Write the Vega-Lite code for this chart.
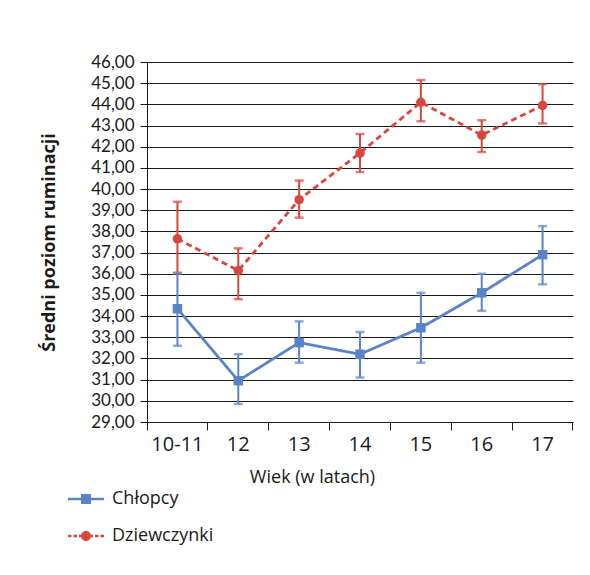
{
  "$schema": "https://vega.github.io/schema/vega-lite/v6.json",
  "width": 426,
  "height": 360,
  "autosize": "none",
  "padding": {"left": 147, "top": 62, "right": 17, "bottom": 153},
  "background": "white",
  "config": {
    "locale": {"number": {"decimal": ",", "thousands": " ", "grouping": [3], "currency": ["", " zł"]}},
    "view": {"stroke": null},
    "font": "Open Sans",
    "axisY": {
      "format": ".2f",
      "labelOverlap": false,
      "labelFont": "Lato",
      "labelFontSize": 17,
      "labelColor": "#1a1a1a",
      "labelPadding": 6,
      "tickSize": 7,
      "tickColor": "#1a1a1a",
      "domainColor": "#1a1a1a",
      "grid": true,
      "gridColor": "#1a1a1a",
      "gridWidth": 1.2,
      "gridOpacity": 1,
      "titleFontSize": 18,
      "titleFontWeight": "bold",
      "titleColor": "#1a1a1a",
      "titlePadding": 32
    },
    "axisX": {
      "labelAngle": 0,
      "labelFontSize": 20,
      "labelColor": "#1a1a1a",
      "labelPadding": 4,
      "tickSize": 8,
      "tickColor": "#1a1a1a",
      "domainColor": "#1a1a1a",
      "bandPosition": 1,
      "tickExtra": true,
      "grid": false,
      "titleFontSize": 18,
      "titleFontWeight": "normal",
      "titleColor": "#1a1a1a",
      "titlePadding": 14,
      "titleX": 165
    }
  },
  "data": {
    "values": [
      {"wiek": "10-11", "plec": "Chłopcy", "m": 34.35, "lo": 32.6, "hi": 36.0},
      {"wiek": "12", "plec": "Chłopcy", "m": 30.95, "lo": 29.85, "hi": 32.2},
      {"wiek": "13", "plec": "Chłopcy", "m": 32.75, "lo": 31.8, "hi": 33.75},
      {"wiek": "14", "plec": "Chłopcy", "m": 32.2, "lo": 31.1, "hi": 33.25},
      {"wiek": "15", "plec": "Chłopcy", "m": 33.45, "lo": 31.8, "hi": 35.1},
      {"wiek": "16", "plec": "Chłopcy", "m": 35.1, "lo": 34.25, "hi": 36.0},
      {"wiek": "17", "plec": "Chłopcy", "m": 36.9, "lo": 35.5, "hi": 38.25},
      {"wiek": "10-11", "plec": "Dziewczynki", "m": 37.65, "lo": 36.05, "hi": 39.4},
      {"wiek": "12", "plec": "Dziewczynki", "m": 36.15, "lo": 34.8, "hi": 37.2},
      {"wiek": "13", "plec": "Dziewczynki", "m": 39.5, "lo": 38.65, "hi": 40.4},
      {"wiek": "14", "plec": "Dziewczynki", "m": 41.7, "lo": 40.8, "hi": 42.6},
      {"wiek": "15", "plec": "Dziewczynki", "m": 44.1, "lo": 43.2, "hi": 45.15},
      {"wiek": "16", "plec": "Dziewczynki", "m": 42.55, "lo": 41.75, "hi": 43.25},
      {"wiek": "17", "plec": "Dziewczynki", "m": 43.95, "lo": 43.1, "hi": 44.95}
    ]
  },
  "encoding": {
    "x": {
      "field": "wiek",
      "type": "ordinal",
      "sort": ["10-11", "12", "13", "14", "15", "16", "17"],
      "scale": {"type": "band", "paddingInner": 0, "paddingOuter": 0},
      "title": "Wiek (w latach)"
    },
    "color": {
      "field": "plec",
      "type": "nominal",
      "scale": {"domain": ["Chłopcy", "Dziewczynki"], "range": ["#5b84c8", "#d8463e"]},
      "legend": {
        "title": null,
        "orient": "none",
        "legendX": -71,
        "legendY": 427,
        "direction": "vertical",
        "symbolSize": 400,
        "labelFontSize": 18,
        "labelColor": "#1a1a1a",
        "labelOffset": 16,
        "rowPadding": 18,
        "encode": {
          "symbols": {
            "update": {
              "shape": {"signal": "datum.value === 'Chłopcy' ? 'M-1.8,-0.13H1.8V0.13H-1.8Z M-0.5,-0.5H0.5V0.5H-0.5Z' : 'M-1.8,-0.13H-1.45V0.13H-1.8Z M-1.25,-0.13H-0.9V0.13H-1.25Z M-0.7,-0.13H-0.45V0.13H-0.7Z M0.45,-0.13H0.7V0.13H0.45Z M0.9,-0.13H1.25V0.13H0.9Z M1.45,-0.13H1.8V0.13H1.45Z M0.5,0A0.5,0.5 0 1,1 -0.5,0A0.5,0.5 0 1,1 0.5,0Z'"},
              "fill": {"scale": "color", "field": "value"},
              "fillOpacity": {"value": 1},
              "strokeWidth": {"value": 0},
              "opacity": {"value": 1}
            }
          }
        }
      }
    }
  },
  "layer": [
    {
      "mark": {"type": "rule", "strokeWidth": 2},
      "encoding": {
        "y": {
          "field": "lo", "type": "quantitative",
          "scale": {"domain": [29, 46], "nice": false, "zero": false},
          "title": "Średni poziom ruminacji",
          "axis": {"values": [29,30,31,32,33,34,35,36,37,38,39,40,41,42,43,44,45,46], "labelOverlap": false}
        },
        "y2": {"field": "hi"}
      }
    },
    {
      "mark": {"type": "tick", "thickness": 2.5, "size": 9, "orient": "horizontal"},
      "encoding": {"y": {"field": "lo", "type": "quantitative", "title": "Średni poziom ruminacji", "axis": {"values": [29,30,31,32,33,34,35,36,37,38,39,40,41,42,43,44,45,46], "labelOverlap": false}}}
    },
    {
      "mark": {"type": "tick", "thickness": 2.5, "size": 9, "orient": "horizontal"},
      "encoding": {"y": {"field": "hi", "type": "quantitative", "title": "Średni poziom ruminacji", "axis": {"values": [29,30,31,32,33,34,35,36,37,38,39,40,41,42,43,44,45,46], "labelOverlap": false}}}
    },
    {
      "mark": {"type": "line", "strokeWidth": 2.8},
      "encoding": {
        "y": {"field": "m", "type": "quantitative", "title": "Średni poziom ruminacji", "axis": {"values": [29,30,31,32,33,34,35,36,37,38,39,40,41,42,43,44,45,46], "labelOverlap": false}},
        "strokeDash": {"condition": {"test": "datum.plec === 'Dziewczynki'", "value": [6, 4]}, "value": [1, 0]}
      }
    },
    {
      "mark": {"type": "point", "filled": true, "opacity": 1, "size": 90},
      "encoding": {
        "y": {"field": "m", "type": "quantitative", "title": "Średni poziom ruminacji", "axis": {"values": [29,30,31,32,33,34,35,36,37,38,39,40,41,42,43,44,45,46], "labelOverlap": false}},
        "shape": {"condition": {"test": "datum.plec === 'Chłopcy'", "value": "square"}, "value": "circle"}
      }
    }
  ]
}
